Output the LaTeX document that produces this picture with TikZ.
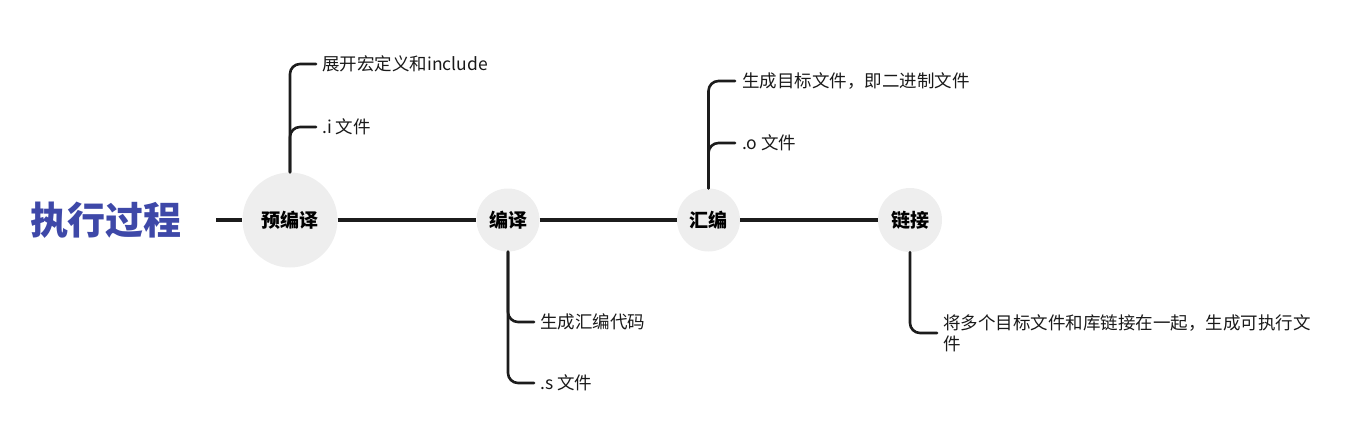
\documentclass[tikz,border=0pt]{standalone}
\usepackage{fontspec}
\setmainfont{Noto Sans CJK SC}
\definecolor{titleblue}{RGB}{62,72,168}
\definecolor{nodegray}{RGB}{238,238,238}
\definecolor{linedark}{RGB}{28,28,28}
\tikzset{
  stage/.style={circle, fill=nodegray, inner sep=0pt, font=\fontsize{19}{22}\selectfont\bfseries, text=black},
  leaf/.style={anchor=west, inner sep=0pt, font=\fontsize{17.5}{21}\selectfont, text=black!90, align=left},
  mainline/.style={draw=linedark, line width=3.2pt},
  branch/.style={draw=linedark, line width=2.6pt, rounded corners=10pt, line cap=round},
}
\begin{document}
\begin{tikzpicture}[x=1pt,y=-1pt]
\useasboundingbox (0,0) rectangle (1360,447);
% title
\node[inner sep=0pt, text=titleblue, font=\fontsize{38}{44}\selectfont\bfseries] (title) at (106,220) {执行过程};
\coordinate (start) at (216,220);
% stages
\node[stage, minimum size=95pt] (n1) at (290,220) {预编译};
\node[stage, minimum size=63pt] (n2) at (508,220) {编译};
\node[stage, minimum size=63pt] (n3) at (708.5,220) {汇编};
\node[stage, minimum size=64pt] (n4) at (910,220) {链接};
% main line
\draw[mainline] (start) -- (n1);
\draw[mainline] (n1) -- (n2);
\draw[mainline] (n2) -- (n3);
\draw[mainline] (n3) -- (n4);
% leaves
\node[leaf] (a1) at (322,64) {展开宏定义和include};
\node[leaf] (a2) at (322,127) {.i 文件};
\node[leaf] (b1) at (540,322) {生成汇编代码};
\node[leaf] (b2) at (540,383) {.s 文件};
\node[leaf] (c1) at (742,81) {生成目标文件，即二进制文件};
\node[leaf] (c2) at (742,143) {.o 文件};
\node[leaf] (d1) at (943,333) {将多个目标文件和库链接在一起，生成可执行文\\件};
% branches
\draw[branch] (n1.north) |- ([xshift=-6pt]a1.west);
\draw[branch] (n1.north) |- ([xshift=-6pt]a2.west);
\draw[branch] (n2.south) |- ([xshift=-6pt]b1.west);
\draw[branch] (n2.south) |- ([xshift=-6pt]b2.west);
\draw[branch] (n3.north) |- ([xshift=-7pt]c1.west);
\draw[branch] (n3.north) |- ([xshift=-7pt]c2.west);
\draw[branch] (n4.south) |- ([xshift=-6pt]d1.west);
\end{tikzpicture}
\end{document}
